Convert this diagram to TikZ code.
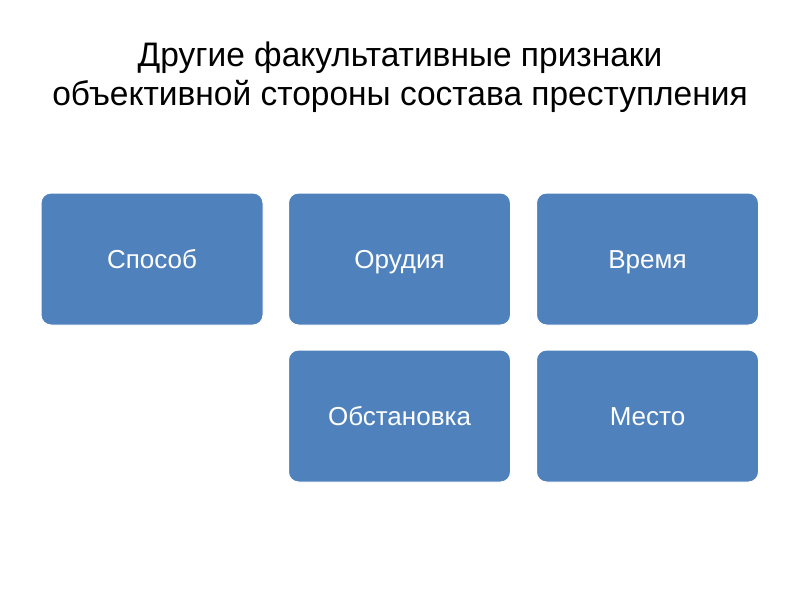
\documentclass[tikz,border=0pt]{standalone}
\usepackage{fontspec}
\setmainfont{Liberation Sans}
\newfontfamily\titlefont[FakeStretch=0.985]{Liberation Sans}
\definecolor{boxblue}{HTML}{4F81BD}
\begin{document}
\begin{tikzpicture}[x=1pt,y=-1pt,
  catbox/.style={draw=white, line width=1pt, fill=boxblue, rounded corners=10pt, minimum width=222pt, minimum height=132pt, inner sep=0pt, text=white, font=\fontsize{26}{30}\selectfont, text height=18.6pt, text depth=0pt},
  titletext/.style={align=center, font=\titlefont\fontsize{34}{39}\selectfont, text=black}]
\useasboundingbox (0,0) rectangle (800,600);
\fill[white] (0,0) rectangle (800,600);
\node[titletext] (title) at (400,77) {Другие факультативные признаки\\объективной стороны состава преступления};
\node[catbox] (sposob) at (152,259) {Способ};
\node[catbox] (orudiya) at (399.5,259) {Орудия};
\node[catbox] (vremya) at (647.5,259) {Время};
\node[catbox] (obstanovka) at (399.5,416) {Обстановка};
\node[catbox] (mesto) at (647.5,416) {Место};
\end{tikzpicture}
\end{document}
